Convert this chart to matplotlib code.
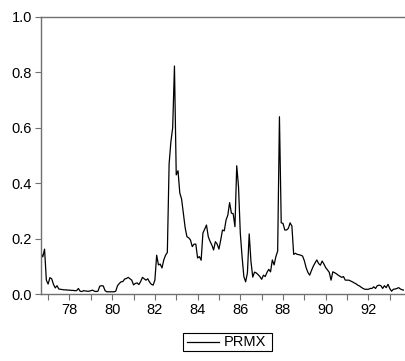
import numpy as np
import matplotlib
matplotlib.use("Agg")
import matplotlib.pyplot as plt
from matplotlib.patches import Rectangle
from matplotlib.lines import Line2D

plt.rcParams['font.family'] = ['Liberation Sans', 'DejaVu Sans']

series_name = "PRMX"
start_year, start_month = 76, 9   # monthly data starting 1976M9

v1976 = [0.148, 0.134, 0.162, 0.050]
v1977 = [0.036, 0.059, 0.055, 0.035, 0.022, 0.030, 0.018, 0.017, 0.016, 0.015, 0.015, 0.014]
v1978 = [0.014, 0.013, 0.013, 0.012, 0.012, 0.020, 0.010, 0.009, 0.012, 0.011, 0.010, 0.010]
v1979 = [0.012, 0.014, 0.010, 0.009, 0.010, 0.028, 0.030, 0.029, 0.012, 0.008, 0.008, 0.008]
v1980 = [0.008, 0.008, 0.010, 0.030, 0.038, 0.044, 0.045, 0.054, 0.056, 0.060, 0.055, 0.050]
v1981 = [0.033, 0.038, 0.040, 0.034, 0.045, 0.060, 0.055, 0.050, 0.055, 0.043, 0.035, 0.032]
v1982 = [0.050, 0.140, 0.105, 0.108, 0.094, 0.123, 0.140, 0.150, 0.470, 0.550, 0.600, 0.823]
v1983 = [0.430, 0.445, 0.365, 0.343, 0.290, 0.240, 0.207, 0.203, 0.195, 0.171, 0.180, 0.180]
v1984 = [0.130, 0.135, 0.122, 0.220, 0.235, 0.249, 0.207, 0.190, 0.177, 0.159, 0.189, 0.180]
v1985 = [0.162, 0.195, 0.231, 0.228, 0.267, 0.285, 0.330, 0.292, 0.290, 0.243, 0.463, 0.387]
v1986 = [0.220, 0.135, 0.063, 0.044, 0.076, 0.217, 0.117, 0.061, 0.079, 0.076, 0.070, 0.063]
v1987 = [0.053, 0.068, 0.063, 0.078, 0.089, 0.080, 0.123, 0.105, 0.135, 0.155, 0.640, 0.257]
v1988 = [0.255, 0.231, 0.231, 0.237, 0.257, 0.245, 0.143, 0.147, 0.143, 0.142, 0.140, 0.137]
v1989 = [0.120, 0.095, 0.078, 0.068, 0.085, 0.100, 0.112, 0.123, 0.110, 0.104, 0.119, 0.108]
v1990 = [0.095, 0.087, 0.078, 0.050, 0.080, 0.077, 0.073, 0.068, 0.064, 0.060, 0.063, 0.050]
v1991 = [0.050, 0.050, 0.047, 0.044, 0.040, 0.037, 0.032, 0.029, 0.024, 0.020, 0.017, 0.017]
v1992 = [0.017, 0.020, 0.020, 0.026, 0.020, 0.030, 0.032, 0.030, 0.020, 0.030, 0.023, 0.035]
v1993 = [0.020, 0.010, 0.017, 0.018, 0.020, 0.023, 0.018, 0.015, 0.014]

values = np.array(v1976 + v1977 + v1978 + v1979 + v1980 + v1981 + v1982 + v1983 +
                  v1984 + v1985 + v1986 + v1987 + v1988 + v1989 + v1990 + v1991 +
                  v1992 + v1993)
t = start_year + (start_month - 1) / 12 + np.arange(len(values)) / 12

y_ticks = [0.0, 0.2, 0.4, 0.6, 0.8, 1.0]
x_ticks = list(range(77, 94))
x_labels = [str(y) if y % 2 == 0 else "" for y in x_ticks]

W, H = 406, 361
fs = 10.5
fig = plt.figure(figsize=(W / 100, H / 100), dpi=100)
ax = fig.add_axes([41 / W, (H - 294) / H, (404 - 41) / W, (294 - 17) / H])

ax.plot(t, values, color='black', lw=0.9)
ax.set_xlim(t[0], t[-1])
ax.set_ylim(0, 1.0)

spine_col = '#707070'
for s in ['left', 'bottom', 'top']:
    ax.spines[s].set_color(spine_col)
    ax.spines[s].set_linewidth(1.0)
ax.spines['right'].set_visible(False)

ax.set_yticks(y_ticks)
ax.set_yticklabels([f"{v:.1f}" for v in y_ticks])
ax.set_xticks(x_ticks)
ax.set_xticklabels(x_labels)
ax.tick_params(axis='both', direction='out', length=4, width=0.8, color=spine_col,
               labelsize=fs, labelcolor='black', pad=2.5)

# legend drawn in figure pixel coordinates (EViews style)
bx0, by0, bx1, by1 = 183, 333, 272, 351
fig.patches.append(Rectangle((bx0 / W, 1 - by1 / H), (bx1 - bx0) / W, (by1 - by0) / H,
                             transform=fig.transFigure, fill=False, edgecolor='black', lw=0.8))
yc = 1 - (by0 + by1) / 2 / H
fig.lines.append(Line2D([187 / W, 219 / W], [yc, yc], transform=fig.transFigure,
                        color='black', lw=0.9))
fig.text(224 / W, yc, series_name, fontsize=fs, va='center', ha='left')

fig.savefig('out.png', dpi=100)
